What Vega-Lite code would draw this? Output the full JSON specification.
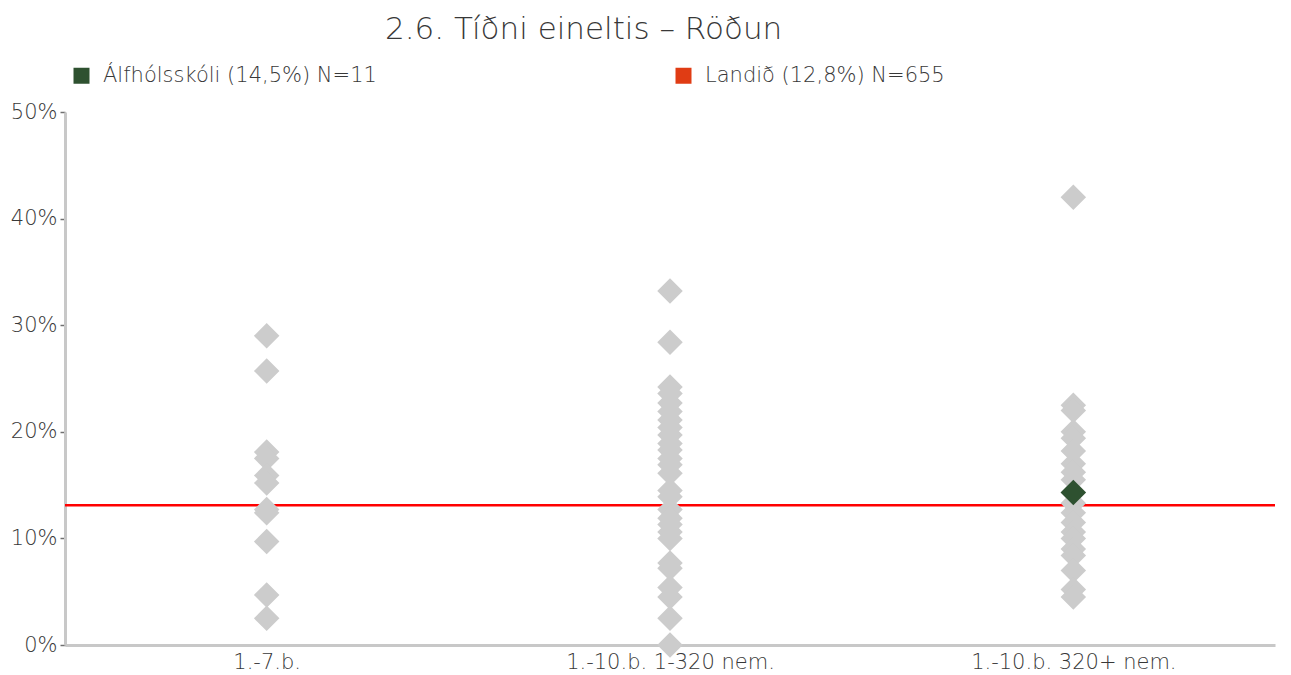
{
  "$schema": "https://vega.github.io/schema/vega-lite/v6.json",
  "width": 1210,
  "height": 533,
  "autosize": {"type": "none"},
  "padding": {"left": 65, "top": 112, "right": 16, "bottom": 30},
  "background": "white",
  "title": {
    "text": "2.6. Tíðni eineltis – Röðun",
    "anchor": "start",
    "frame": "group",
    "dx": 320,
    "dy": 28,
    "offset": 23,
    "baseline": "alphabetic",
    "fontSize": 31,
    "font": "DejaVu Sans",
    "fontWeight": 300,
    "color": "#383838"
  },
  "config": {
    "view": {"stroke": null},
    "font": "DejaVu Sans"
  },
  "datasets": {
    "land": [{"value": 13.1}],
    "own": [{"cat": "1.-10.b. 320+ nem.", "value": 14.3, "series": "Álfhólsskóli (14,5%) N=11"}],
    "schools": [
      {"cat": "1.-7.b.", "value": 29.0},
      {"cat": "1.-7.b.", "value": 25.7},
      {"cat": "1.-7.b.", "value": 18.1},
      {"cat": "1.-7.b.", "value": 17.5},
      {"cat": "1.-7.b.", "value": 15.9},
      {"cat": "1.-7.b.", "value": 15.2},
      {"cat": "1.-7.b.", "value": 12.7},
      {"cat": "1.-7.b.", "value": 12.4},
      {"cat": "1.-7.b.", "value": 9.7},
      {"cat": "1.-7.b.", "value": 4.7},
      {"cat": "1.-7.b.", "value": 2.5},
      {"cat": "1.-10.b. 1-320 nem.", "value": 33.2},
      {"cat": "1.-10.b. 1-320 nem.", "value": 28.4},
      {"cat": "1.-10.b. 1-320 nem.", "value": 24.2},
      {"cat": "1.-10.b. 1-320 nem.", "value": 23.6},
      {"cat": "1.-10.b. 1-320 nem.", "value": 22.7},
      {"cat": "1.-10.b. 1-320 nem.", "value": 21.9},
      {"cat": "1.-10.b. 1-320 nem.", "value": 21.1},
      {"cat": "1.-10.b. 1-320 nem.", "value": 20.4},
      {"cat": "1.-10.b. 1-320 nem.", "value": 19.7},
      {"cat": "1.-10.b. 1-320 nem.", "value": 18.9},
      {"cat": "1.-10.b. 1-320 nem.", "value": 18.3},
      {"cat": "1.-10.b. 1-320 nem.", "value": 17.5},
      {"cat": "1.-10.b. 1-320 nem.", "value": 16.9},
      {"cat": "1.-10.b. 1-320 nem.", "value": 16.1},
      {"cat": "1.-10.b. 1-320 nem.", "value": 14.5},
      {"cat": "1.-10.b. 1-320 nem.", "value": 13.9},
      {"cat": "1.-10.b. 1-320 nem.", "value": 12.7},
      {"cat": "1.-10.b. 1-320 nem.", "value": 11.9},
      {"cat": "1.-10.b. 1-320 nem.", "value": 11.3},
      {"cat": "1.-10.b. 1-320 nem.", "value": 10.6},
      {"cat": "1.-10.b. 1-320 nem.", "value": 10.0},
      {"cat": "1.-10.b. 1-320 nem.", "value": 7.7},
      {"cat": "1.-10.b. 1-320 nem.", "value": 7.2},
      {"cat": "1.-10.b. 1-320 nem.", "value": 5.4},
      {"cat": "1.-10.b. 1-320 nem.", "value": 4.5},
      {"cat": "1.-10.b. 1-320 nem.", "value": 2.5},
      {"cat": "1.-10.b. 1-320 nem.", "value": 0.0},
      {"cat": "1.-10.b. 320+ nem.", "value": 42.0},
      {"cat": "1.-10.b. 320+ nem.", "value": 22.5},
      {"cat": "1.-10.b. 320+ nem.", "value": 22.0},
      {"cat": "1.-10.b. 320+ nem.", "value": 20.0},
      {"cat": "1.-10.b. 320+ nem.", "value": 19.4},
      {"cat": "1.-10.b. 320+ nem.", "value": 18.2},
      {"cat": "1.-10.b. 320+ nem.", "value": 17.0},
      {"cat": "1.-10.b. 320+ nem.", "value": 16.2},
      {"cat": "1.-10.b. 320+ nem.", "value": 15.5},
      {"cat": "1.-10.b. 320+ nem.", "value": 14.3},
      {"cat": "1.-10.b. 320+ nem.", "value": 13.3},
      {"cat": "1.-10.b. 320+ nem.", "value": 12.4},
      {"cat": "1.-10.b. 320+ nem.", "value": 11.5},
      {"cat": "1.-10.b. 320+ nem.", "value": 10.6},
      {"cat": "1.-10.b. 320+ nem.", "value": 10.0},
      {"cat": "1.-10.b. 320+ nem.", "value": 9.0},
      {"cat": "1.-10.b. 320+ nem.", "value": 8.4},
      {"cat": "1.-10.b. 320+ nem.", "value": 7.0},
      {"cat": "1.-10.b. 320+ nem.", "value": 5.2},
      {"cat": "1.-10.b. 320+ nem.", "value": 4.5}
    ]
  },
  "layer": [
    {
      "data": {"name": "land"},
      "mark": {"type": "rule", "color": "#FF0000", "strokeWidth": 2.5},
      "encoding": {
        "y": {
          "field": "value",
          "type": "quantitative",
          "scale": {"domain": [0, 50], "nice": false},
          "axis": {
            "title": null,
            "values": [0, 10, 20, 30, 40, 50],
            "labelExpr": "datum.value + '%'",
            "grid": false,
            "domainColor": "#C8C8C8",
            "domainWidth": 3,
            "tickColor": "#707070",
            "tickSize": 5,
            "tickWidth": 1.5,
            "labelFontSize": 21,
            "labelFont": "DejaVu Sans",
            "labelFontWeight": 300,
            "labelColor": "#383838",
            "labelPadding": 3
          }
        }
      }
    },
    {
      "data": {"name": "schools"},
      "mark": {"type": "point", "shape": "diamond", "filled": true, "size": 650, "color": "#CCCCCC", "opacity": 1},
      "encoding": {
        "x": {
          "field": "cat",
          "type": "nominal",
          "scale": {"domain": ["1.-7.b.", "1.-10.b. 1-320 nem.", "1.-10.b. 320+ nem."]},
          "axis": {
            "title": null,
            "labelAngle": 0,
            "ticks": false,
            "domainColor": "#C8C8C8",
            "domainWidth": 3,
            "labelFontSize": 21,
            "labelFont": "DejaVu Sans",
            "labelFontWeight": 300,
            "labelColor": "#383838",
            "labelLimit": 400,
            "labelPadding": 6
          }
        },
        "y": {"field": "value", "type": "quantitative"}
      }
    },
    {
      "data": {"name": "own"},
      "mark": {"type": "point", "shape": "diamond", "filled": true, "size": 650, "opacity": 1},
      "encoding": {
        "x": {"field": "cat", "type": "nominal"},
        "y": {"field": "value", "type": "quantitative"},
        "color": {
          "field": "series",
          "type": "nominal",
          "scale": {
            "domain": ["Álfhólsskóli (14,5%) N=11", "Landið (12,8%) N=655"],
            "range": ["#2E5130", "#E03C14"]
          },
          "legend": {
            "orient": "none",
            "legendX": 6,
            "legendY": -47,
            "direction": "horizontal",
            "columns": 2,
            "columnPadding": 296,
            "symbolType": "square",
            "symbolSize": 256,
            "symbolStrokeWidth": 0,
            "labelFontSize": 21,
            "labelFont": "DejaVu Sans",
            "labelFontWeight": 300,
            "labelColor": "#383838",
            "labelOffset": 11,
            "labelLimit": 500,
            "title": null,
            "padding": 0
          }
        }
      }
    }
  ]
}
